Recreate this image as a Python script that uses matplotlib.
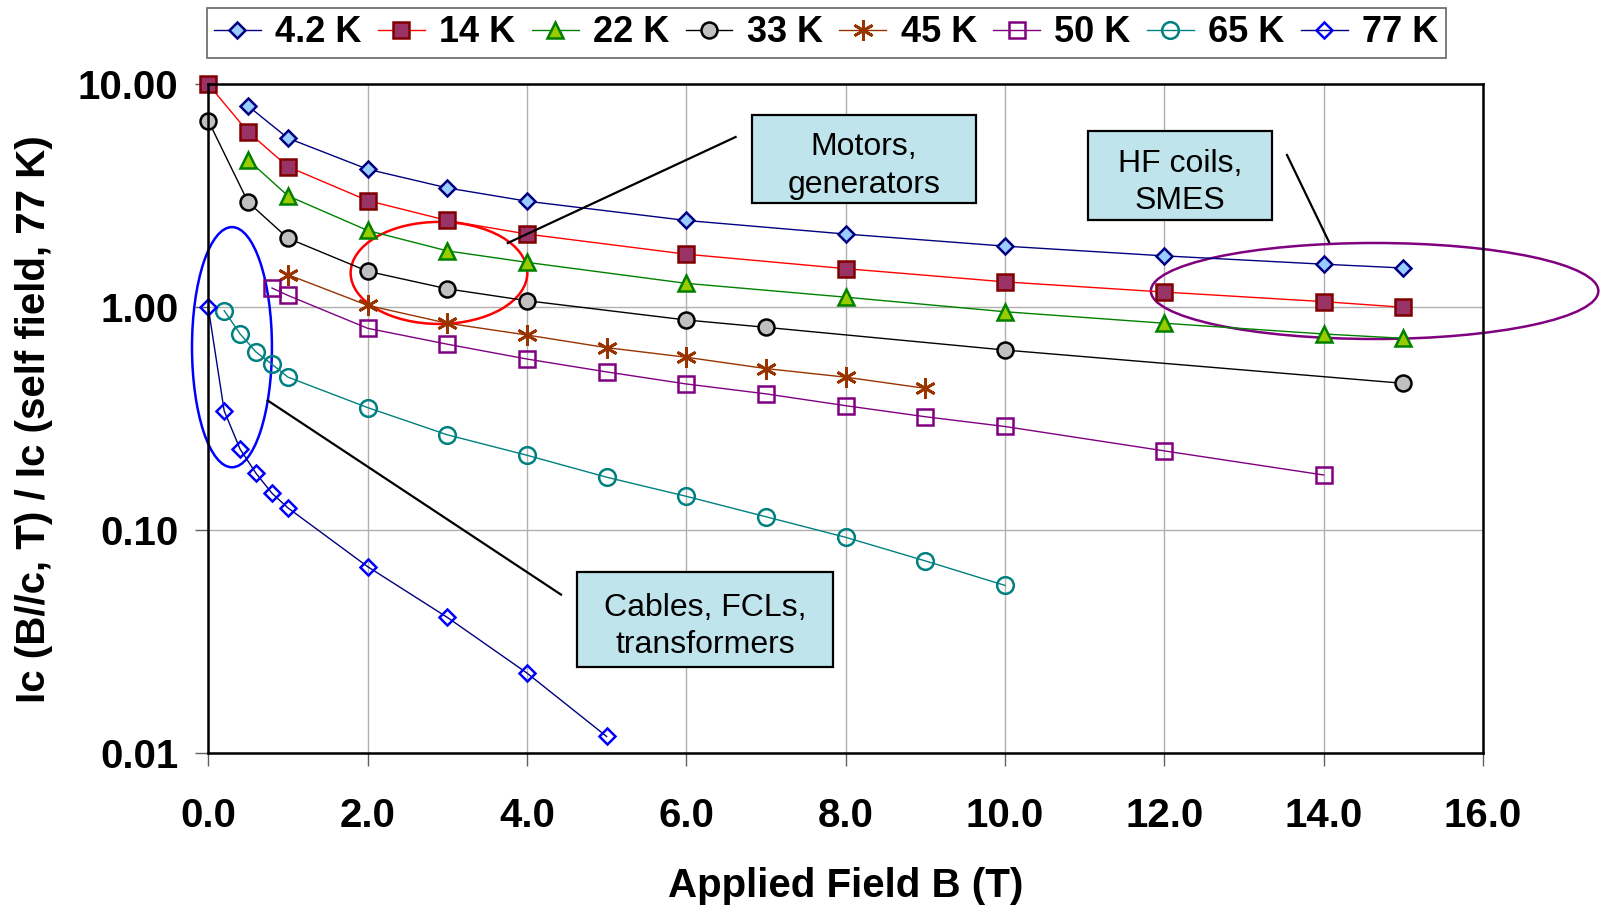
import matplotlib
matplotlib.use('Agg')
import matplotlib.pyplot as plt
from matplotlib.patches import Ellipse, Rectangle
from matplotlib.lines import Line2D
from matplotlib.ticker import FormatStrFormatter, NullLocator

plt.rcParams['font.family'] = ['Liberation Sans', 'DejaVu Sans']

# data (normalised Ic vs applied field)
b_42 = [0.5, 1, 2, 3, 4, 6, 8, 10, 12, 14, 15]
ic_42 = [7.99, 5.73, 4.16, 3.43, 2.99, 2.45, 2.13, 1.88, 1.70, 1.56, 1.50]

b_14 = [0, 0.5, 1, 2, 3, 4, 6, 8, 10, 12, 14, 15]
ic_14 = [10.0, 6.11, 4.27, 3.01, 2.45, 2.13, 1.73, 1.49, 1.30, 1.17, 1.06, 1.00]

b_22 = [0.5, 1, 2, 3, 4, 6, 8, 10, 12, 14, 15]
ic_22 = [4.58, 3.16, 2.21, 1.79, 1.59, 1.28, 1.11, 0.955, 0.848, 0.759, 0.726]

b_33 = [0, 0.5, 1, 2, 3, 4, 6, 7, 10, 15]
ic_33 = [6.87, 2.96, 2.04, 1.45, 1.21, 1.07, 0.877, 0.813, 0.643, 0.456]

b_45 = [1, 2, 3, 4, 5, 6, 7, 8, 9]
ic_45 = [1.40, 1.02, 0.848, 0.751, 0.659, 0.597, 0.531, 0.486, 0.433]

b_50 = [0.8, 1, 2, 3, 4, 5, 6, 7, 8, 9, 10, 12, 14]
ic_50 = [1.22, 1.13, 0.805, 0.683, 0.586, 0.513, 0.453, 0.409, 0.362, 0.323, 0.292, 0.227, 0.177]

b_65 = [0.2, 0.4, 0.6, 0.8, 1, 2, 3, 4, 5, 6, 7, 8, 9, 10]
ic_65 = [0.966, 0.759, 0.630, 0.555, 0.486, 0.355, 0.268, 0.217, 0.173, 0.142, 0.115, 0.093, 0.0729, 0.0566]

b_77 = [0, 0.2, 0.4, 0.6, 0.8, 1, 2, 3, 4, 5]
ic_77 = [1.0, 0.343, 0.231, 0.180, 0.1465, 0.126, 0.0687, 0.0407, 0.0229, 0.0119]

fig = plt.figure(figsize=(16.02, 9.09), dpi=100)
ax = fig.add_axes([0.130, 0.1713, 0.7957, 0.736])

ax.plot(b_42, ic_42, '-', color='#000080', lw=1, marker='D', ms=8.5,
        mfc='#99CCFF', mec='#000080', mew=1.8, label='4.2 K', clip_on=False)
ax.plot(b_14, ic_14, '-', color='#FF0000', lw=1, marker='s', ms=11.5,
        mfc='#993366', mec='#800000', mew=1.8, label='14 K', clip_on=False)
ax.plot(b_22, ic_22, '-', color='#008000', lw=1, marker='^', ms=12,
        mfc='#99CC00', mec='#008000', mew=1.8, label='22 K', clip_on=False)
ax.plot(b_33, ic_33, '-', color='#000000', lw=1, marker='o', ms=11.5,
        mfc='#C0C0C0', mec='#000000', mew=1.8, label='33 K', clip_on=False)
ax.plot(b_45, ic_45, '-', color='#993300', lw=1, marker=(6, 2, 0), ms=15,
        mfc='#993300', mec='#993300', mew=2, label='45 K', clip_on=False)
ax.plot(b_50, ic_50, '-', color='#800080', lw=1, marker='s', ms=11.5,
        mfc='none', mec='#800080', mew=1.8, label='50 K', clip_on=False)
ax.plot(b_65, ic_65, '-', color='#008080', lw=1, marker='o', ms=12,
        mfc='none', mec='#008080', mew=1.8, label='65 K', clip_on=False)
ax.plot(b_77, ic_77, '-', color='#000080', lw=1, marker='D', ms=8,
        mfc='none', mec='#0000FF', mew=1.8, label='77 K', clip_on=False)

ax.set_yscale('log')
ax.set_ylim(0.01, 10)
ax.set_xlim(0, 16)
ax.set_xticks([0, 2, 4, 6, 8, 10, 12, 14, 16])
ax.set_yticks([0.01, 0.1, 1, 10])
ax.yaxis.set_minor_locator(NullLocator())
ax.xaxis.set_major_formatter(FormatStrFormatter('%.1f'))
ax.yaxis.set_major_formatter(FormatStrFormatter('%.2f'))
ax.grid(True, color='#B0B0B0', lw=1)
ax.set_axisbelow(True)
for s in ax.spines.values():
    s.set_linewidth(1.8)
ax.tick_params(length=9.5, width=1, color='#606060', labelsize=29)
ax.tick_params(axis='y', pad=12)
ax.tick_params(axis='x', pad=22)
for t in ax.get_xticklabels() + ax.get_yticklabels():
    t.set_fontweight('bold')

ax.set_xlabel('Applied Field B (T)', fontsize=29, fontweight='bold', labelpad=23)
ax.set_ylabel('Ic (B//c, T) / Ic (self field, 77 K)', fontsize=29, fontweight='bold', labelpad=18)

leg = ax.legend(ncol=8, loc='upper left', bbox_to_anchor=(0.129, 0.991),
                bbox_transform=fig.transFigure, prop={'size': 26, 'weight': 'bold'},
                handlelength=1.3, handletextpad=0.4, columnspacing=0.45,
                borderpad=0.2, borderaxespad=0, fancybox=False, edgecolor='#404040')
leg.get_frame().set_linewidth(1.2)

# highlight ellipses (axes fraction)
ax.add_patch(Ellipse((0.0186, 0.607), 0.0627, 0.359, transform=ax.transAxes,
                     fill=False, ec='#0000FF', lw=1.8, clip_on=False))
ax.add_patch(Ellipse((0.181, 0.718), 0.1386, 0.1525, transform=ax.transAxes,
                     fill=False, ec='#FF0000', lw=1.8, clip_on=False))
ax.add_patch(Ellipse((0.915, 0.691), 0.351, 0.1435, transform=ax.transAxes,
                     fill=False, ec='#800080', lw=1.8, clip_on=False))

W, H = 1602.0, 909.0

def fx(px):
    return px / W

def fy(py):
    return 1 - py / H

# pointer lines
for (x1, y1, x2, y2) in [(735.6, 137, 507.8, 243), (267.7, 400.5, 561, 594.6), (1287, 155, 1329, 242)]:
    fig.add_artist(Line2D([fx(x1), fx(x2)], [fy(y1), fy(y2)], color='black', lw=1.6,
                          transform=fig.transFigure))

# labelled boxes
boxes = [((752, 115, 976, 203), 'Motors,\ngenerators'),
         ((1088, 131, 1272, 220), 'HF coils,\nSMES'),
         ((577, 572, 833, 667), 'Cables, FCLs,\ntransformers')]
for (x0, y0, x1, y1), txt in boxes:
    fig.add_artist(Rectangle((fx(x0), fy(y1)), fx(x1) - fx(x0), fy(y0) - fy(y1),
                             transform=fig.transFigure, fc='#C0E4EC', ec='black', lw=1.6))
    fig.text(fx((x0 + x1) / 2), fy((y0 + y1) / 2 + 7), txt, ha='center', va='center',
             fontsize=23, linespacing=1.33)

fig.savefig('out.png', dpi=100)
